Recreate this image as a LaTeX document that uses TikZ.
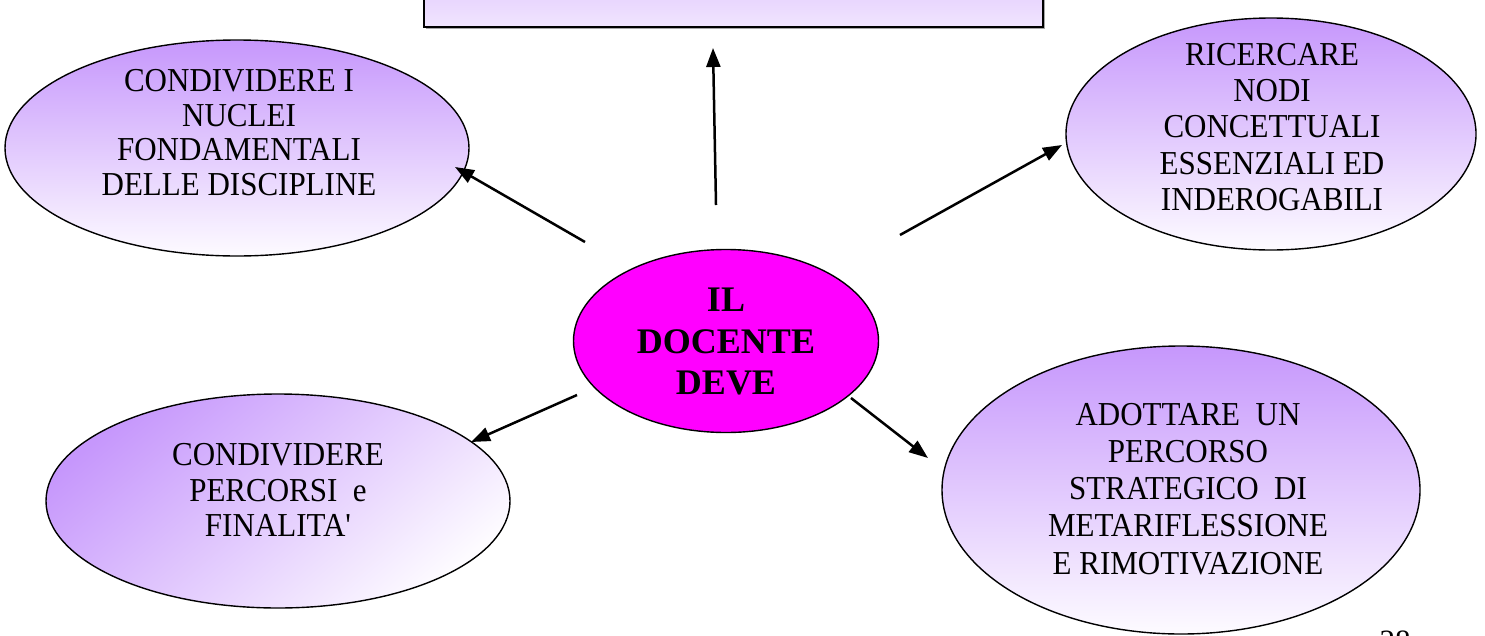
\documentclass[tikz,border=0pt]{standalone}
\usepackage{fontspec}
\usepackage{graphicx}
\setmainfont{Liberation Serif}
\usetikzlibrary{arrows.meta,shapes.geometric,shadows}
\definecolor{lavtop}{HTML}{C697FC}
\definecolor{lavbot}{HTML}{FDFBFF}
\definecolor{magfill}{HTML}{FF00FF}
\pgfdeclareverticalshading{lavshade}{100bp}{color(0bp)=(lavbot); color(25bp)=(lavbot); color(75bp)=(lavtop); color(100bp)=(lavtop)}
\pgfdeclareverticalshading{boxshade}{100bp}{color(0bp)=(white); color(100bp)=(lavtop)}
\newcommand{\vstretch}[1]{\scalebox{1}[1.08]{\begin{tabular}{@{}c@{}}#1\end{tabular}}}
\begin{document}
\begin{tikzpicture}[x=1pt,y=-1pt,
  lav/.style={ellipse, draw=black, line width=1.4pt, shading=lavshade, inner sep=0pt},
  lbl/.style={align=center, font=\fontsize{31}{33.6}\selectfont, inner sep=0pt},
  arr/.style={line width=2.5pt, -{Triangle[length=19pt,width=14pt]}}]
\useasboundingbox (0,0) rectangle (1485,635);
% top box (cut at the top)
\node[draw=black, line width=1.4pt, shading=boxshade, minimum width=619pt, minimum height=97pt, inner sep=0pt,
      drop shadow={shadow xshift=1.5pt, shadow yshift=-1.8pt, fill=gray, opacity=0.7}] (topbox) at (733.5,-21.5) {};
% ellipses
\node[lav, minimum width=464pt, minimum height=216pt] (tl) at (237,148) {};
\node[lav, minimum width=410pt, minimum height=232pt] (tr) at (1271,134) {};
\node[lav, minimum width=464pt, minimum height=214pt, shading angle=40] (bl) at (278,501) {};
\node[lav, minimum width=478pt, minimum height=288pt] (br) at (1181,490) {};
\node[ellipse, draw=black, line width=1.4pt, fill=magfill, inner sep=0pt, minimum width=305pt, minimum height=183pt] (c) at (726,341) {};
% texts
\node[lbl, font=\fontsize{31}{31.9}\selectfont] (tltext) at (239,136.5) {\vstretch{CONDIVIDERE I\\NUCLEI\\FONDAMENTALI\\DELLE DISCIPLINE}};
\node[lbl] (trtext) at (1272,130.5) {\vstretch{RICERCARE\\NODI\\CONCETTUALI\\ESSENZIALI ED\\INDEROGABILI}};
\node[lbl, font=\fontsize{31}{32.9}\selectfont] (bltext) at (278,494) {\vstretch{CONDIVIDERE\\PERCORSI\ \ e\\FINALITA\textquotesingle}};
\node[lbl, font=\fontsize{31}{34.3}\selectfont] (brtext) at (1188,492.5) {\vstretch{ADOTTARE\ \ UN\\PERCORSO\\STRATEGICO\ \ DI\\METARIFLESSIONE\\E RIMOTIVAZIONE}};
\node[align=center, inner sep=0pt, font=\fontsize{36}{41.8}\selectfont\bfseries] (ctext) at (726,341.5) {IL\\DOCENTE\\DEVE};
\node[inner sep=0pt, anchor=base, font=\fontsize{31}{36}\selectfont] (pnum) at (1395,651) {28};
% arrows
\coordinate (s0) at (716,205); \coordinate (e0) at (713,48);
\coordinate (s1) at (585,242); \coordinate (e1) at (455,167);
\coordinate (s2) at (900,235); \coordinate (e2) at (1062,145);
\coordinate (s3) at (577,395); \coordinate (e3) at (471,442);
\coordinate (s4) at (851,398); \coordinate (e4) at (928,458);
\draw[arr] (s0) -- (e0);
\draw[arr] (s1) -- (e1);
\draw[arr] (s2) -- (e2);
\draw[arr] (s3) -- (e3);
\draw[arr] (s4) -- (e4);
\end{tikzpicture}
\end{document}
